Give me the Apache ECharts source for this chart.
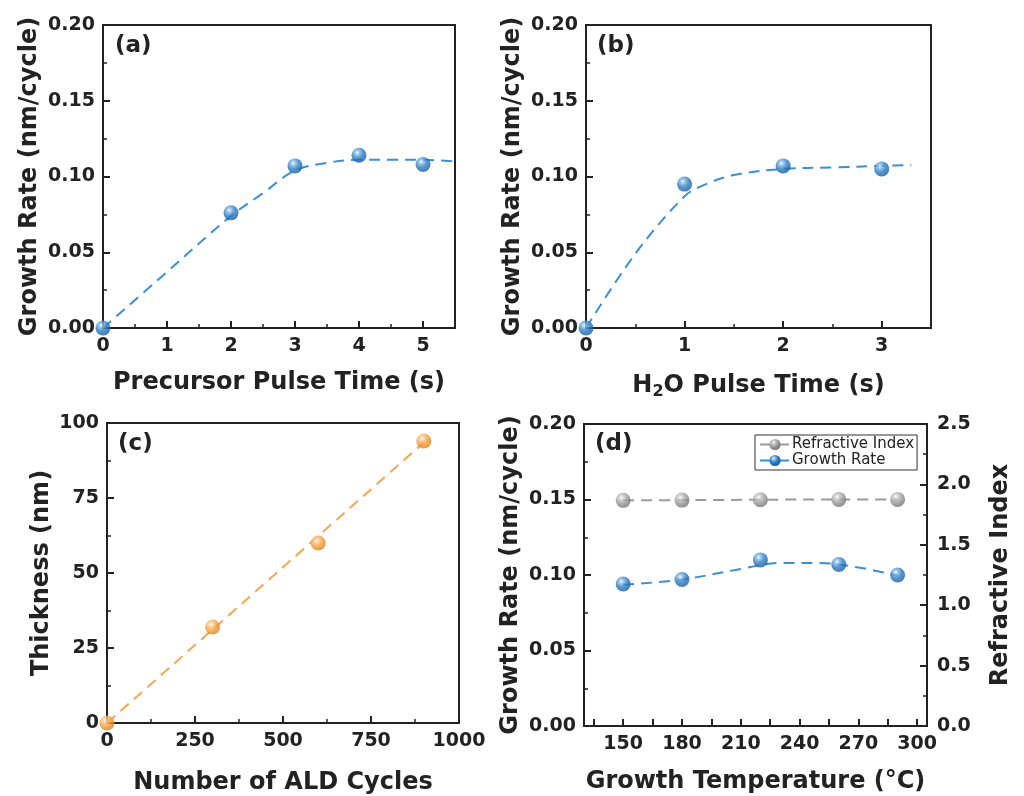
<!DOCTYPE html>
<html><head><meta charset="utf-8">
<script src="https://cdn.jsdelivr.net/npm/echarts@6/dist/echarts.min.js"></script>
<style>html,body{margin:0;padding:0;background:#fff}#c{width:1024px;height:796px}</style>
</head><body><div id="c"></div>
<script>
// Panel (a)
const aX=[0,2,3,4,5];
const aY=[0,0.076,0.107,0.114,0.108];
const aFitX=[0,1,2,2.5,3,3.5,4,4.5,5,5.5];
const aFitY=[0,0.037,0.074,0.089,0.104,0.109,0.111,0.111,0.111,0.110];
// Panel (b)
const bX=[0,1,2,3];
const bY=[0,0.095,0.107,0.105];
const bFitX=[0,0.5,1,1.2,1.5,2,2.5,3,3.3];
const bFitY=[0,0.049,0.087,0.0945,0.101,0.105,0.106,0.107,0.1075];
// Panel (c)
const cX=[0,300,600,900];
const cY=[0,32,60,94];
const cFitX=[0,900];
const cFitY=[0,93.5];
// Panel (d)
const dT=[150,180,220,260,290];
const dRI=[1.868,1.870,1.873,1.876,1.876];
const dGR=[0.094,0.097,0.110,0.107,0.100];
const dFitT=[150,180,210,230,250,270,290];
const dFitGR=[0.0935,0.097,0.104,0.108,0.108,0.105,0.0995];
const dTickLabels=[150,180,210,240,270,300];
const dTicks=[135,150,165,180,195,210,225,240,255,270,285,300];

const zip=(x,y)=>x.map((v,i)=>[v,y[i]]);
const FONT="'DejaVu Sans', Arial, sans-serif";
const ball=(c0,c1,c2,c3)=>({type:'radial',x:0.38,y:0.32,r:0.7,colorStops:[
  {offset:0,color:c0},{offset:0.18,color:c1},{offset:0.55,color:c2},{offset:1,color:c3}]});
const BLUE=ball('#ffffff','#8fc0ea','#2a7cc4','#1b5c9a');
const ORANGE=ball('#ffffff','#fcd19a','#f5a03c','#d77f1c');
const GRAY=ball('#ffffff','#d0d0d0','#9c9c9c','#727272');
const BLUE_LINE='#3b8fd4', ORANGE_LINE='#f5a650', GRAY_LINE='#9a9a9a';
const DASH=[11,7];

const tickLbl={fontFamily:FONT,fontWeight:'bold',fontSize:19,color:'#222'};
const nameSt={fontFamily:FONT,fontWeight:'bold',fontSize:24,color:'#222'};
function xAx(gi,min,max,interval,name,gap,extra){
  return Object.assign({type:'value',gridIndex:gi,min,max,interval,name,nameLocation:'middle',nameGap:gap,
    nameTextStyle:nameSt,
    axisLine:{show:true,onZero:false,lineStyle:{color:'#222',width:2}},
    axisTick:{show:true,inside:true,length:7,lineStyle:{color:'#222',width:2}},
    minorTick:{show:true,splitNumber:2,length:4,lineStyle:{color:'#222',width:1.5}},
    axisLabel:Object.assign({margin:9,showMaxLabel:false,formatter:v=>String(v)},tickLbl),
    splitLine:{show:false}},extra||{});
}
function yAx(gi,min,max,interval,name,gap,fmt,extra){
  return Object.assign({type:'value',gridIndex:gi,min,max,interval,name,nameLocation:'middle',nameGap:gap,
    nameTextStyle:nameSt,
    axisLine:{show:true,onZero:false,lineStyle:{color:'#222',width:2}},
    axisTick:{show:true,inside:true,length:7,lineStyle:{color:'#222',width:2}},
    minorTick:{show:true,splitNumber:2,length:4,lineStyle:{color:'#222',width:1.5}},
    axisLabel:Object.assign({margin:8,formatter:v=>v.toFixed(fmt)},tickLbl),
    splitLine:{show:false}},extra||{});
}
function pts(xi,yi,data,color,name){
  return {type:'scatter',name,xAxisIndex:xi,yAxisIndex:yi,data,symbolSize:15,
    itemStyle:{color},z:5,clip:false};
}
function fit(xi,yi,data,lc,ic,name){
  return {type:'line',name,xAxisIndex:xi,yAxisIndex:yi,data,smooth:0.35,symbol:'circle',showSymbol:false,
    lineStyle:{color:lc,width:2,type:DASH},itemStyle:{color:ic},z:3};
}
const gridBase={show:true,borderColor:'#222',borderWidth:2,backgroundColor:'transparent'};
const lblSt={fontFamily:FONT,fontWeight:'bold',fontSize:23,color:'#222'};

const option={
  animation:false,
  backgroundColor:'#fff',
  title:[
    {text:'(a)',left:110,top:30,textStyle:lblSt},
    {text:'(b)',left:592,top:30,textStyle:lblSt},
    {text:'(c)',left:113,top:428,textStyle:lblSt},
    {text:'(d)',left:590,top:428,textStyle:lblSt}
  ],
  legend:{left:755,top:435,orient:'vertical',data:['Refractive Index','Growth Rate'],
    itemWidth:30,itemHeight:14,itemGap:1,padding:[2,3,2,4],
    borderColor:'#333',borderWidth:1,backgroundColor:'#fff',
    textStyle:{fontFamily:FONT,fontSize:15,color:'#222',padding:[0,0,0,-3]}},
  grid:[
    Object.assign({left:103,top:25,width:352,height:303},gridBase),
    Object.assign({left:586,top:25,width:345,height:303},gridBase),
    Object.assign({left:107,top:423,width:352,height:301},gridBase),
    Object.assign({left:584,top:424,width:343,height:302},gridBase)
  ],
  xAxis:[
    xAx(0,0,5.5,1,'Precursor Pulse Time (s)',43),
    xAx(1,0,3.5,1,'{a|H}{s|2}{a|O Pulse Time (s)}',43,{nameTextStyle:Object.assign({},nameSt,{rich:{
      a:Object.assign({},nameSt),s:Object.assign({},nameSt,{fontSize:16,verticalAlign:'bottom',padding:[13,0,0,0]})}})}),
    xAx(2,0,1000,250,'Number of ALD Cycles',48,{axisLabel:Object.assign({margin:9,showMaxLabel:true,formatter:v=>String(v)},tickLbl)}),
    xAx(3,130,305,15,'Growth Temperature (°C)',44,{
      axisLabel:Object.assign({margin:9,customValues:dTickLabels,formatter:v=>String(v)},tickLbl),
      axisTick:{show:true,inside:true,length:7,customValues:dTicks,lineStyle:{color:'#222',width:2}},
      minorTick:{show:false}})
  ],
  yAxis:[
    yAx(0,0,0.2,0.05,'Growth Rate (nm/cycle)',61,2),
    yAx(1,0,0.2,0.05,'Growth Rate (nm/cycle)',61,2),
    yAx(2,0,100,25,'Thickness (nm)',53,0),
    yAx(3,0,0.2,0.05,'Growth Rate (nm/cycle)',61,2),
    yAx(3,0,2.5,0.5,'Refractive Index',62,1,{position:'right',nameRotate:90,
      axisLabel:Object.assign({margin:10,formatter:v=>v.toFixed(1)},tickLbl)})
  ],
  series:[
    fit(0,0,zip(aFitX,aFitY),BLUE_LINE,BLUE,'fitA'),
    pts(0,0,zip(aX,aY),BLUE,'a'),
    fit(1,1,zip(bFitX,bFitY),BLUE_LINE,BLUE,'fitB'),
    pts(1,1,zip(bX,bY),BLUE,'b'),
    fit(2,2,zip(cFitX,cFitY),ORANGE_LINE,ORANGE,'fitC'),
    pts(2,2,zip(cX,cY),ORANGE,'c'),
    fit(3,4,zip(dT,dRI),GRAY_LINE,GRAY,'Refractive Index'),
    pts(3,4,zip(dT,dRI),GRAY,'ri'),
    fit(3,3,zip(dFitT,dFitGR),BLUE_LINE,BLUE,'Growth Rate'),
    pts(3,3,zip(dT,dGR),BLUE,'gr')
  ]
};
const chart=echarts.init(document.getElementById('c'),null,{renderer:'canvas'});
chart.setOption(option);
</script>
</body></html>
